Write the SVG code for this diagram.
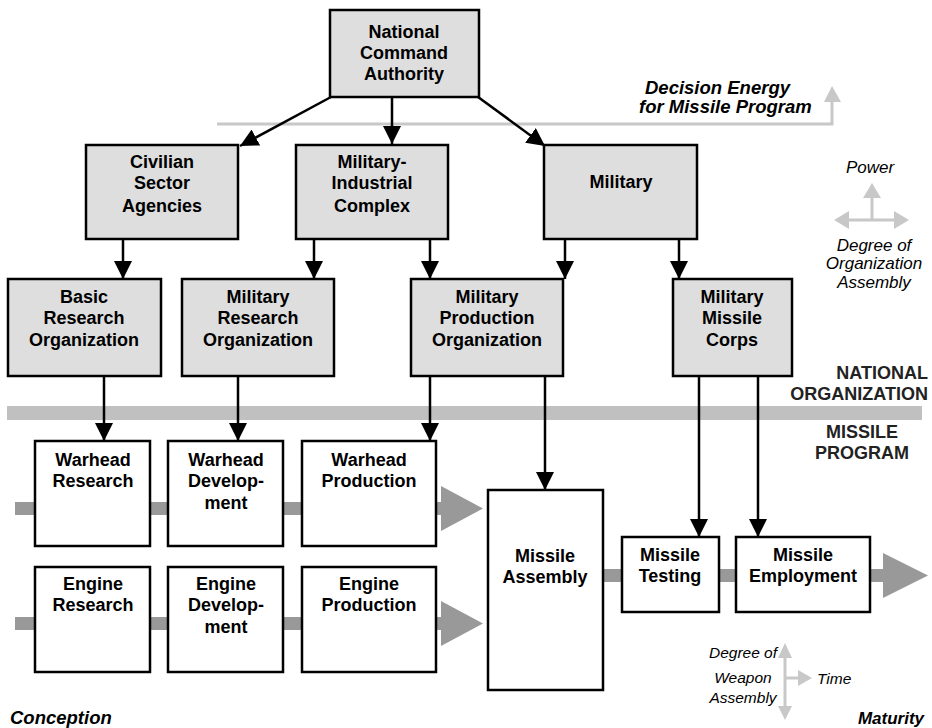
<svg xmlns="http://www.w3.org/2000/svg" width="932" height="728" viewBox="0 0 932 728">
  <style>
    .org rect { fill: #dedede; stroke: #000; stroke-width: 2.5; }
    .stage rect { fill: #fff; stroke: #000; stroke-width: 2.5; }
    .lbl { font-family: "Liberation Sans", Arial, sans-serif; font-weight: bold; font-size: 18px; fill: #000; text-anchor: middle; }
    .hdr { font-family: "Liberation Sans", Arial, sans-serif; font-weight: bold; font-size: 18px; fill: #222; }
    .it { font-family: "Liberation Sans", Arial, sans-serif; font-style: italic; font-size: 17px; fill: #000; text-anchor: middle; }
    .it-sm { font-family: "Liberation Sans", Arial, sans-serif; font-style: italic; font-size: 15.5px; fill: #000; text-anchor: middle; }
    .bi { font-family: "Liberation Sans", Arial, sans-serif; font-style: italic; font-weight: bold; font-size: 18.5px; fill: #000; }
    .link { stroke: #000; stroke-width: 2.5; fill: none; marker-end: url(#head); }
    .flow { fill: #999; }
    .legend { fill: #c8c8c8; }
    .legend-line { stroke: #c8c8c8; stroke-width: 3; fill: none; }
  </style>
  <defs>
    <marker id="head" markerUnits="userSpaceOnUse" markerWidth="18" markerHeight="18" viewBox="0 0 18 18" refX="18" refY="9" orient="auto">
      <path d="M0,0 L18,9 L0,18 Z" fill="#000"/>
    </marker>
  </defs>

  <!-- decision energy line -->
  <g id="decision-energy">
    <polyline points="217,124 832,124 832,100" class="legend-line" stroke="#bdbdbd"/>
    <polygon points="824,102 832,86 841,102" class="legend"/>
    <text class="bi" x="645" y="94">Decision Energy</text>
    <text class="bi" x="639" y="113">for Missile Program</text>
  </g>

  <!-- section band -->
  <g id="band">
    <rect x="7" y="406" width="915" height="14" fill="#c0c0c0"/>
    <text class="hdr" x="928" y="379" text-anchor="end">NATIONAL</text>
    <text class="hdr" x="928" y="400" text-anchor="end">ORGANIZATION</text>
    <text class="hdr" x="862" y="438" text-anchor="middle">MISSILE</text>
    <text class="hdr" x="862" y="459" text-anchor="middle">PROGRAM</text>
  </g>

  <!-- gray process flows -->
  <g id="flows">
    <rect class="flow" x="15" y="502" width="430" height="13"/>
    <polygon class="flow" points="441,486 483,508.5 441,531"/>
    <rect class="flow" x="15" y="617" width="430" height="13"/>
    <polygon class="flow" points="441,601 483,623.5 441,646"/>
    <rect class="flow" x="600" y="569" width="286" height="13"/>
    <polygon class="flow" points="883,553 928,575.5 883,598"/>
  </g>

  <!-- connectors -->
  <g id="connectors">
    <line class="link" x1="331" y1="97" x2="240" y2="146"/>
    <line class="link" x1="392" y1="97" x2="392" y2="144"/>
    <line class="link" x1="478" y1="97" x2="545" y2="146"/>
    <line class="link" x1="123" y1="239" x2="123" y2="279"/>
    <line class="link" x1="314" y1="239" x2="314" y2="279"/>
    <line class="link" x1="430" y1="239" x2="430" y2="279"/>
    <line class="link" x1="565" y1="239" x2="565" y2="279"/>
    <line class="link" x1="679" y1="239" x2="679" y2="279"/>
    <line class="link" x1="104" y1="376" x2="104" y2="441"/>
    <line class="link" x1="238" y1="376" x2="238" y2="441"/>
    <line class="link" x1="430" y1="376" x2="430" y2="441"/>
    <line class="link" x1="545" y1="376" x2="545" y2="490"/>
    <line class="link" x1="699" y1="376" x2="699" y2="537"/>
    <line class="link" x1="758" y1="376" x2="758" y2="537"/>
  </g>

  <!-- national organization -->
  <g id="nca" class="org">
    <rect x="330" y="10" width="149" height="87"/>
    <text class="lbl" x="404" y="38">National</text>
    <text class="lbl" x="404" y="59">Command</text>
    <text class="lbl" x="404" y="80">Authority</text>
  </g>
  <g id="civilian" class="org">
    <rect x="86" y="145" width="152" height="94"/>
    <text class="lbl" x="162" y="168">Civilian</text>
    <text class="lbl" x="162" y="189">Sector</text>
    <text class="lbl" x="162" y="212">Agencies</text>
  </g>
  <g id="mic" class="org">
    <rect x="296" y="145" width="152" height="94"/>
    <text class="lbl" x="372" y="168">Military-</text>
    <text class="lbl" x="372" y="189">Industrial</text>
    <text class="lbl" x="372" y="212">Complex</text>
  </g>
  <g id="military" class="org">
    <rect x="544" y="145" width="153" height="94"/>
    <text class="lbl" x="621" y="188">Military</text>
  </g>
  <g id="basic-research" class="org">
    <rect x="8" y="279" width="153" height="97"/>
    <text class="lbl" x="84" y="303">Basic</text>
    <text class="lbl" x="84" y="324">Research</text>
    <text class="lbl" x="84" y="346">Organization</text>
  </g>
  <g id="military-research" class="org">
    <rect x="182" y="279" width="152" height="97"/>
    <text class="lbl" x="258" y="303">Military</text>
    <text class="lbl" x="258" y="324">Research</text>
    <text class="lbl" x="258" y="346">Organization</text>
  </g>
  <g id="military-production" class="org">
    <rect x="411" y="279" width="152" height="97"/>
    <text class="lbl" x="487" y="303">Military</text>
    <text class="lbl" x="487" y="324">Production</text>
    <text class="lbl" x="487" y="346">Organization</text>
  </g>
  <g id="missile-corps" class="org">
    <rect x="673" y="279" width="119" height="97"/>
    <text class="lbl" x="732" y="303">Military</text>
    <text class="lbl" x="732" y="324">Missile</text>
    <text class="lbl" x="732" y="346">Corps</text>
  </g>

  <!-- missile program -->
  <g id="warhead-research" class="stage">
    <rect x="35" y="441" width="115" height="105"/>
    <text class="lbl" x="93" y="466">Warhead</text>
    <text class="lbl" x="93" y="487">Research</text>
  </g>
  <g id="warhead-development" class="stage">
    <rect x="168" y="441" width="115" height="105"/>
    <text class="lbl" x="226" y="466">Warhead</text>
    <text class="lbl" x="226" y="487">Develop-</text>
    <text class="lbl" x="226" y="509">ment</text>
  </g>
  <g id="warhead-production" class="stage">
    <rect x="302" y="441" width="134" height="105"/>
    <text class="lbl" x="369" y="466">Warhead</text>
    <text class="lbl" x="369" y="487">Production</text>
  </g>
  <g id="engine-research" class="stage">
    <rect x="35" y="567" width="115" height="105"/>
    <text class="lbl" x="93" y="590">Engine</text>
    <text class="lbl" x="93" y="611">Research</text>
  </g>
  <g id="engine-development" class="stage">
    <rect x="168" y="567" width="115" height="105"/>
    <text class="lbl" x="226" y="590">Engine</text>
    <text class="lbl" x="226" y="611">Develop-</text>
    <text class="lbl" x="226" y="633">ment</text>
  </g>
  <g id="engine-production" class="stage">
    <rect x="302" y="567" width="134" height="105"/>
    <text class="lbl" x="369" y="590">Engine</text>
    <text class="lbl" x="369" y="611">Production</text>
  </g>
  <g id="missile-assembly" class="stage">
    <rect x="488" y="490" width="115" height="200"/>
    <text class="lbl" x="545" y="562">Missile</text>
    <text class="lbl" x="545" y="583">Assembly</text>
  </g>
  <g id="missile-testing" class="stage">
    <rect x="622" y="537" width="97" height="75"/>
    <text class="lbl" x="670" y="561">Missile</text>
    <text class="lbl" x="670" y="582">Testing</text>
  </g>
  <g id="missile-employment" class="stage">
    <rect x="736" y="537" width="134" height="75"/>
    <text class="lbl" x="803" y="561">Missile</text>
    <text class="lbl" x="803" y="582">Employment</text>
  </g>

  <!-- power / organization legend -->
  <g id="legend-power">
    <line class="legend-line" x1="872" y1="220" x2="872" y2="196"/>
    <polygon class="legend" points="863,198 872,183 881,198"/>
    <line class="legend-line" x1="846" y1="220" x2="896" y2="220"/>
    <polygon class="legend" points="849,211 834,220 849,229"/>
    <polygon class="legend" points="894,211 909,220 894,229"/>
    <text class="it" x="870" y="173">Power</text>
    <text class="it" x="874" y="251">Degree of</text>
    <text class="it" x="874" y="269">Organization</text>
    <text class="it" x="874" y="288">Assembly</text>
  </g>

  <!-- weapon assembly / time legend -->
  <g id="legend-time">
    <line class="legend-line" x1="785" y1="656" x2="785" y2="708"/>
    <polygon class="legend" points="778,658 785,643 792,658"/>
    <polygon class="legend" points="778,706 785,720 792,706"/>
    <line class="legend-line" x1="785" y1="678" x2="800" y2="678"/>
    <polygon class="legend" points="798,670 812,678 798,686"/>
    <text class="it-sm" x="743" y="658">Degree of</text>
    <text class="it-sm" x="743" y="683">Weapon</text>
    <text class="it-sm" x="743" y="703">Assembly</text>
    <text class="it-sm" x="817" y="684" style="text-anchor: start">Time</text>
  </g>

  <g id="ends">
    <text class="bi" x="10" y="724">Conception</text>
    <text class="bi" x="924" y="724" style="text-anchor: end; font-size: 17px">Maturity</text>
  </g>
</svg>
